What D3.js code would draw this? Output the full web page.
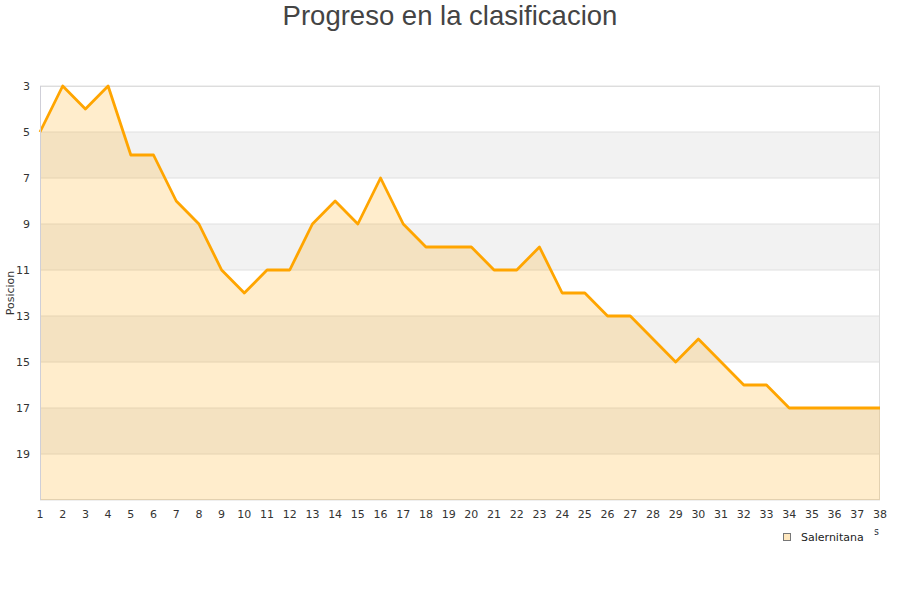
<!DOCTYPE html>
<html><head><meta charset="utf-8">
<script src="https://cdn.jsdelivr.net/npm/d3@7"></script>
<style>body{margin:0;background:#fff}svg{display:block}</style>
</head><body>
<svg id="c" width="900" height="600"></svg>
<script>
const title = "Progreso en la clasificacion";
const yTitle = "Posicion";
const xTitle = "Jornadas";
const seriesName = "Salernitana";
const jornadas = d3.range(1, 39);
const posiciones = [5,3,4,3,6,6,8,9,11,12,11,11,9,8,9,7,9,10,10,10,11,11,10,12,12,13,13,14,15,14,15,16,16,17,17,17,17,17];
const yTicks = [3,5,7,9,11,13,15,17,19];
const bands = [[5,7],[9,11],[13,15],[17,19]];

const svg = d3.select("#c");
const L = 40, R = 880, T = 86, B = 500;
const x = d3.scaleLinear().domain([1, 38]).range([L, R]);
const y = d3.scaleLinear().domain([3, 21]).range([T, B]);

svg.append("defs").append("clipPath").attr("id", "xtclip")
  .append("rect").attr("x", 874.5).attr("y", 515).attr("width", 25).attr("height", 30);

// bands
svg.selectAll("rect.band").data(bands).enter().append("rect")
  .attr("x", L).attr("width", R - L)
  .attr("y", d => y(d[0])).attr("height", d => y(d[1]) - y(d[0]))
  .attr("fill", "#f2f2f2");
// grid
svg.selectAll("line.grid").data(yTicks.concat([21])).enter().append("line")
  .attr("x1", L).attr("x2", R).attr("y1", d => y(d)).attr("y2", d => y(d))
  .attr("stroke", "#e0e0e0").attr("stroke-width", 1);
// border
svg.append("rect").attr("x", L + 0.5).attr("y", T + 0.5).attr("width", R - L - 1).attr("height", B - T - 1)
  .attr("fill", "none").attr("stroke", "#dddddd");

const data = jornadas.map((j, i) => ({j, p: posiciones[i]}));
svg.append("path").datum(data)
  .attr("d", d3.area().x(d => x(d.j)).y0(B).y1(d => y(d.p)))
  .attr("fill", "rgba(255,165,0,0.2)");
svg.append("path").datum(data)
  .attr("d", d3.line().x(d => x(d.j)).y(d => y(d.p)))
  .attr("fill", "none").attr("stroke", "#ffa500").attr("stroke-width", 2.8)
  .attr("stroke-linejoin", "round");

// left axis line
svg.append("line").attr("x1", L + 0.5).attr("x2", L + 0.5).attr("y1", T).attr("y2", B)
  .attr("stroke", "#cfcfd8");

const font = "DejaVu Sans, sans-serif";
svg.selectAll("text.yt").data(yTicks).enter().append("text")
  .attr("x", 30).attr("y", d => y(d) + 4).attr("text-anchor", "end")
  .attr("font-family", font).attr("font-size", 11).attr("fill", "#333")
  .text(d => d);
svg.selectAll("text.xt").data(jornadas).enter().append("text")
  .attr("x", d => x(d)).attr("y", 518).attr("text-anchor", "middle")
  .attr("font-family", font).attr("font-size", 11).attr("fill", "#333")
  .text(d => d);

svg.append("text").attr("transform", "translate(14,293) rotate(-90)")
  .attr("text-anchor", "middle").attr("font-family", font).attr("font-size", 11).attr("fill", "#333")
  .text(yTitle);

svg.append("text").attr("x", 450).attr("y", 25).attr("text-anchor", "middle")
  .attr("font-family", "Liberation Sans, Arial, sans-serif").attr("font-size", 27.5).attr("fill", "#444")
  .text(title);

// x title (mostly hidden behind legend)
svg.append("text").attr("x", 879).attr("y", 535).attr("text-anchor", "end")
  .attr("clip-path", "url(#xtclip)")
  .attr("font-family", font).attr("font-size", 10).attr("fill", "#333").text(xTitle);

// legend
const lg = svg.append("g");
lg.append("rect").attr("x", 783.5).attr("y", 533.5).attr("width", 7).attr("height", 7)
  .attr("fill", "#ffe8bf").attr("stroke", "#777");
lg.append("text").attr("x", 801).attr("y", 541).attr("font-family", font).attr("font-size", 11)
  .attr("fill", "#222").text(seriesName);
</script>
</body></html>
